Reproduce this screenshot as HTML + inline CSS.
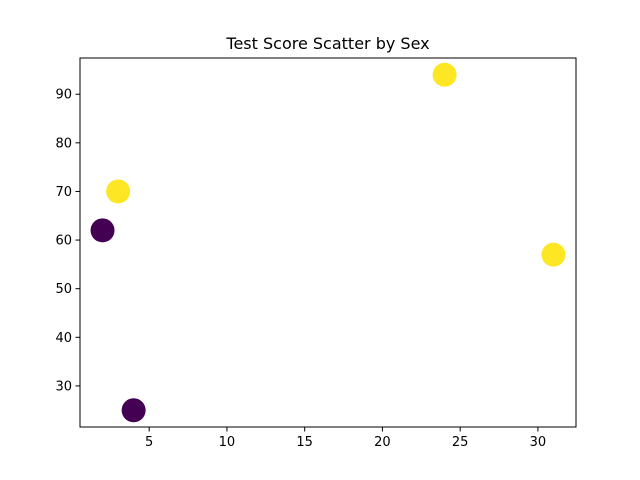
<!DOCTYPE html>
<html><head><meta charset="utf-8"><style>
body{margin:0;background:#fff;}
svg{display:block;font-family:"DejaVu Sans","Liberation Sans",sans-serif;}
</style></head><body>
<svg id="chart" width="640" height="480"></svg>
<script>
const xValues=[2,3,4,24,31];
const yValues=[62,70,25,94,57];
const sexes=[0,1,0,1,1];
const xTicks=[5,10,15,20,25,30];
const yTicks=[30,40,50,60,70,80,90];
const titleText="Test Score Scatter by Sex";

const L=80,R=576,T=58,B=427;
const NS="http://www.w3.org/2000/svg";
const svg=document.getElementById('chart');
function mk(t,a,p){const e=document.createElementNS(NS,t);for(const k in a)e.setAttribute(k,a[k]);(p||svg).appendChild(e);return e;}
const xmin0=Math.min(...xValues),xmax0=Math.max(...xValues);
const ymin0=Math.min(...yValues),ymax0=Math.max(...yValues);
const xm=(xmax0-xmin0)*0.05,ym=(ymax0-ymin0)*0.05;
const xmin=xmin0-xm,xmax=xmax0+xm,ymin=ymin0-ym,ymax=ymax0+ym;
const sx=v=>L+(v-xmin)/(xmax-xmin)*(R-L);
const sy=v=>B-(v-ymin)/(ymax-ymin)*(B-T);

const title=mk('text',{x:(L+R)/2,y:49,'text-anchor':'middle','font-size':16,fill:'#000'});
title.textContent=titleText;



const colors=['#440154','#fde725'];
xValues.forEach((x,i)=>{
  const c=mk('circle',{cx:sx(x),cy:sy(yValues[i]),r:12,fill:colors[sexes[i]]});
  
  
});

const frame=mk('rect',{x:L,y:T,width:R-L,height:B-T,fill:'none',stroke:'#000','stroke-width':1});



xTicks.forEach(v=>{
  const px=sx(v);
  const l=mk('line',{x1:px,x2:px,y1:B,y2:B+4.5,stroke:'#000'});
  
  
  const t=mk('text',{x:px,y:B+19,'text-anchor':'middle','font-size':13,fill:'#000'});
  t.textContent=v;
  
  
});
yTicks.forEach(v=>{
  const py=sy(v);
  const l=mk('line',{x1:L-4.5,x2:L,y1:py,y2:py,stroke:'#000'});
  
  
  const t=mk('text',{x:L-8,y:py+4.5,'text-anchor':'end','font-size':13,fill:'#000'});
  t.textContent=v;
  
  
});
</script>
</body></html>
